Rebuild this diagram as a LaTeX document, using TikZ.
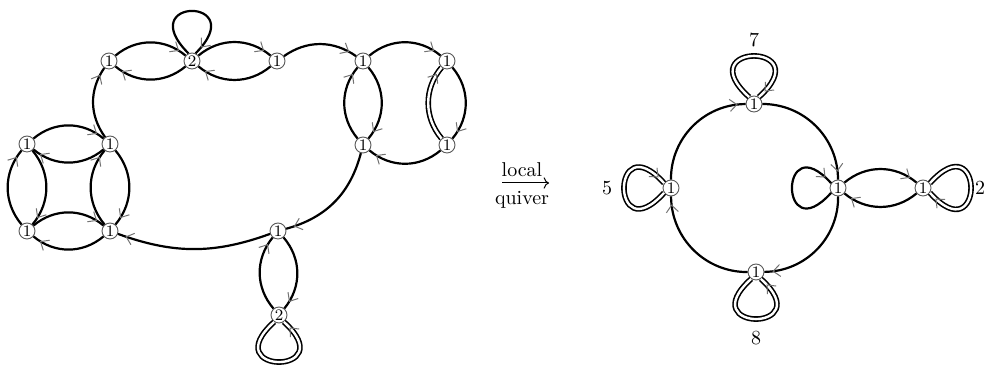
\documentclass[tikz,border=0pt]{standalone}
\usetikzlibrary{arrows.meta,decorations.markings}
\begin{document}
\begin{tikzpicture}[x=0.5pt,y=0.5pt,
  v/.style={circle,draw=black!65,line width=0.45pt,fill=white,inner sep=0pt,minimum size=8pt,font=\footnotesize},
  e/.style={line width=1.1pt,postaction={decorate},
    decoration={markings,mark=at position -4pt with {\arrow{Straight Barb[length=3.5pt,width=6pt,line width=0.5pt,color=black!55]}}}},
  dbl/.style={double,line width=0.8pt,double distance=1.2pt},
  num/.style={inner sep=0pt,font=\normalsize}]
\useasboundingbox (0,0) rectangle (985,368);
% left graph nodes
\node[v] (A) at (109,307) {1};
\node[v] (B) at (192,307) {2};
\node[v] (C) at (277,307) {1};
\node[v] (D) at (363,307) {1};
\node[v] (E) at (447,307) {1};
\node[v] (F) at (363,223) {1};
\node[v] (G) at (447,223) {1};
\node[v] (H) at (27,224) {1};
\node[v] (I) at (110,224) {1};
\node[v] (J) at (27,137) {1};
\node[v] (K) at (110,137) {1};
\node[v] (L) at (278,137) {1};
\node[v] (M) at (279,53) {2};
% right graph nodes
\node[v] (T) at (754,264) {1};
\node[v] (Lf) at (671,180) {1};
\node[v] (Ce) at (838,180) {1};
\node[v] (R) at (923,180) {1};
\node[v] (Bo) at (756,96) {1};
\node[num] (n7) at (754,328) {7};
\node[num] (n5) at (607,180) {5};
\node[num] (n8) at (756,30) {8};
\node[num] (n2) at (980,180) {2};
% arrow label
\node[num] (loc) at (522,198) {local};
\node[num] (qv) at (522,168) {quiver};
\coordinate (a1) at (502,185);
\coordinate (a2) at (549,185);
\draw[line width=0.5pt,-{Computer Modern Rightarrow}] (a1) -- (a2);
% left graph edges
\draw[e] (A) to[bend left=40] (B);
\draw[e] (B) to[bend left=40] (A);
\draw[e] (B) to[bend left=40] (C);
\draw[e] (C) to[bend left=40] (B);
\draw[e] (C) to[bend left=35] (D);
\draw[e] (D) to[bend left=40] (E);
\draw[e] (G) to[bend left=40] (F);
\draw[e] (F) to[bend left=40] (D);
\draw[e] (D) to[bend left=40] (F);
\draw[e,dbl] (G) to[bend left=40] (E);
\draw[e] (E) to[bend left=40] (G);
\draw[e] (F) to[bend left=30] (L);
\draw[e] (L) to[bend left=20] (K);
\draw[e] (M) to[bend left=40] (L);
\draw[e] (L) to[bend left=40] (M);
\draw[e] (I) to[bend left=35] (A);
\draw[e] (H) to[bend left=40] (I);
\draw[e] (I) to[bend left=40] (H);
\draw[e] (J) to[bend left=40] (K);
\draw[e] (K) to[bend left=40] (J);
\draw[e] (J) to[bend left=40] (H);
\draw[e] (H) to[bend left=40] (J);
\draw[e] (K) to[bend left=40] (I);
\draw[e] (I) to[bend left=40] (K);
\draw[e] (B.115) .. controls +(135:80) and +(45:80) .. (B.65);
\draw[e,dbl] (M.235) .. controls +(222:80) and +(318:80) .. (M.305);
% right graph edges
\draw[e] (Lf) to[bend left=45] (T);
\draw[e] (T) to[bend left=45] (Ce);
\draw[e] (Ce) to[bend left=45] (Bo);
\draw[e] (Bo) to[bend left=45] (Lf);
\draw[e] (Ce) to[bend left=40] (R);
\draw[e] (R) to[bend left=40] (Ce);
\draw[e,dbl] (T.125) .. controls +(138:82) and +(42:82) .. (T.55);
\draw[e,dbl] (Lf.215) .. controls +(228:80) and +(132:80) .. (Lf.145);
\draw[e,dbl] (Bo.235) .. controls +(222:80) and +(318:80) .. (Bo.305);
\draw[e,dbl] (R.35) .. controls +(48:82) and +(-48:82) .. (R.-35);
\draw[e] (Ce.215) .. controls +(228:78) and +(132:78) .. (Ce.145);
\end{tikzpicture}
\end{document}
